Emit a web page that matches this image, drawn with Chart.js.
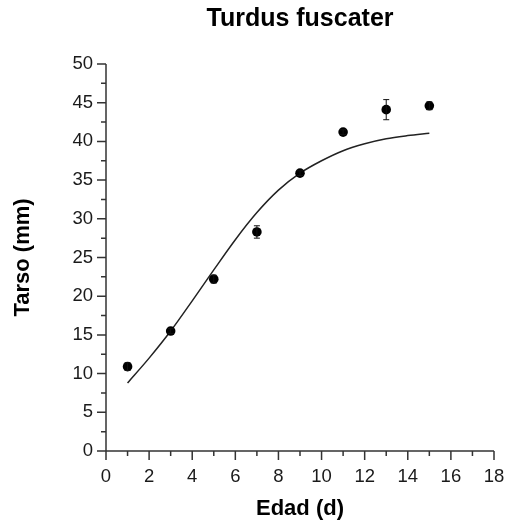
<!DOCTYPE html>
<html>
<head>
<meta charset="utf-8">
<script src="https://cdn.jsdelivr.net/npm/chart.js@4"></script>
<style>
  html, body { margin: 0; padding: 0; background: #fff; }
  #c { display: block; }
</style>
</head>
<body>
<canvas id="c" width="510" height="525"></canvas>
<script>
// ---- data ----
const ages = [1, 3, 5, 7, 9, 11, 13, 15];
const tarso = [10.9, 15.5, 22.2, 28.3, 35.9, 41.2, 44.1, 44.6];
const tarsoErr = [0.5, 0.3, 0.5, 0.8, 0.3, 0.3, 1.3, 0.5];
const curveX = [1, 2, 3, 4, 5, 6, 7, 8, 9, 10, 11, 12, 13, 14, 15];
const curveY = [8.8, 12.0, 15.5, 19.4, 23.4, 27.3, 30.8, 33.7, 35.9, 37.5, 38.8, 39.7, 40.35, 40.75, 41.05];
const xTicks = [0, 2, 4, 6, 8, 10, 12, 14, 16, 18];
const yTicks = [0, 5, 10, 15, 20, 25, 30, 35, 40, 45, 50];
const xMinor = [1, 3, 5, 7, 9, 11, 13, 15, 17];
const yMinor = [2.5, 7.5, 12.5, 17.5, 22.5, 27.5, 32.5, 37.5, 42.5, 47.5];

const FONT = "'Liberation Sans', Arial, sans-serif";
const INK = '#1a1a1a';

const axesPlugin = {
  id: 'axesPlugin',
  afterDatasetsDraw(chart) {
    const {ctx, chartArea: a, scales: {x, y}} = chart;
    ctx.save();
    ctx.strokeStyle = '#333';
    ctx.lineWidth = 1.5;
    const major = 9, minor = 5;
    ctx.beginPath();
    ctx.moveTo(a.left, a.top);
    ctx.lineTo(a.left, a.bottom);
    ctx.moveTo(a.left - major, a.bottom);
    ctx.lineTo(a.right, a.bottom);
    yTicks.forEach(v => { const p = y.getPixelForValue(v); ctx.moveTo(a.left - major, p); ctx.lineTo(a.left, p); });
    yMinor.forEach(v => { const p = y.getPixelForValue(v); ctx.moveTo(a.left - minor, p); ctx.lineTo(a.left, p); });
    xTicks.forEach(v => { const p = x.getPixelForValue(v); ctx.moveTo(p, a.bottom); ctx.lineTo(p, a.bottom + major); });
    xMinor.forEach(v => { const p = x.getPixelForValue(v); ctx.moveTo(p, a.bottom); ctx.lineTo(p, a.bottom + minor); });
    ctx.stroke();
    ctx.restore();
  }
};

const errorBarPlugin = {
  id: 'errorBarPlugin',
  afterDatasetsDraw(chart) {
    const {ctx, scales: {x, y}} = chart;
    ctx.save();
    ctx.strokeStyle = '#111';
    ctx.lineWidth = 1;
    ctx.beginPath();
    ages.forEach((a, i) => {
      const px = x.getPixelForValue(a);
      const top = y.getPixelForValue(tarso[i] + tarsoErr[i]);
      const bot = y.getPixelForValue(tarso[i] - tarsoErr[i]);
      ctx.moveTo(px, top); ctx.lineTo(px, bot);
      ctx.moveTo(px - 3, top); ctx.lineTo(px + 3, top);
      ctx.moveTo(px - 3, bot); ctx.lineTo(px + 3, bot);
    });
    ctx.stroke();
    ctx.restore();
  }
};

new Chart(document.getElementById('c'), {
  type: 'scatter',
  data: {
    datasets: [
      {
        label: 'ajuste',
        data: curveX.map((v, i) => ({x: v, y: curveY[i]})),
        showLine: true,
        borderColor: '#222',
        borderWidth: 1.5,
        pointRadius: 0,
        cubicInterpolationMode: 'monotone',
        fill: false,
        order: 2
      },
      {
        label: 'Tarso',
        data: ages.map((v, i) => ({x: v, y: tarso[i]})),
        backgroundColor: '#000',
        borderColor: '#000',
        pointRadius: 4.8,
        pointBorderWidth: 0,
        showLine: false,
        order: 1
      }
    ]
  },
  options: {
    responsive: false,
    animation: false,
    devicePixelRatio: 1,
    layout: { padding: { left: 0, right: 16, top: 0, bottom: 0 } },
    plugins: {
      legend: { display: false },
      tooltip: { enabled: false },
      title: {
        display: true,
        text: 'Turdus fuscater',
        fullSize: false,
        color: '#000',
        font: { family: FONT, size: 25, weight: 'bold' },
        padding: { top: 4, bottom: 30 }
      }
    },
    scales: {
      x: {
        type: 'linear',
        min: 0, max: 18,
        afterFit: s => { s.height = 74; s.paddingLeft = 0; s.paddingRight = 0; },
        afterBuildTicks: s => { s.ticks = xTicks.map(v => ({value: v})); },
        grid: { display: false, drawTicks: false },
        border: { display: false },
        ticks: { color: INK, font: { family: FONT, size: 18.5 }, padding: 15, maxRotation: 0, autoSkip: false },
        title: {
          display: true, text: 'Edad (d)', color: '#000',
          font: { family: FONT, size: 22, weight: 'bold' },
          padding: { top: 0, bottom: 3 }
        }
      },
      y: {
        type: 'linear',
        min: 0, max: 50,
        afterFit: s => { s.width = 106; s.paddingTop = 0; s.paddingBottom = 0; },
        afterBuildTicks: s => { s.ticks = yTicks.map(v => ({value: v})); },
        grid: { display: false, drawTicks: false },
        border: { display: false },
        ticks: { color: INK, font: { family: FONT, size: 18.5 }, padding: 13, autoSkip: false },
        title: {
          display: true, text: 'Tarso (mm)', color: '#000',
          font: { family: FONT, size: 22, weight: 'bold' },
          padding: { top: 10, bottom: 0 }
        }
      }
    }
  },
  plugins: [axesPlugin, errorBarPlugin]
});
</script>
</body>
</html>
